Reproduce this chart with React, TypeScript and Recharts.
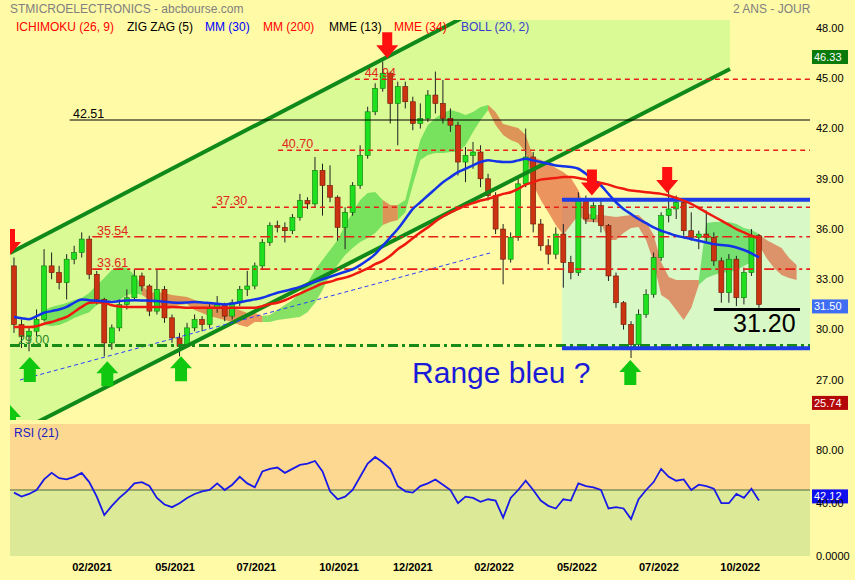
import React from 'react';
import { ComposedChart, Bar, Line, Area, Scatter, XAxis, YAxis, ReferenceLine } from 'recharts';

// weekly candles (index 0 = late nov 2020)
const opens = [
  33.8, 30.3, 29.6, 29.9, 30.6, 33.8, 33.4, 32.8, 34.2, 34.6,
  35.4, 33.3, 31.8, 29.2, 30.1, 31.5, 31.9, 33.2, 32.6, 31.1,
  32.4, 30.7, 29.5, 29.0, 30.1, 30.6, 30.3, 31.3, 31.5, 30.8,
  31.6, 32.4, 32.6, 33.8, 35.2, 36.2, 36.1, 35.9, 36.7, 37.7,
  37.5, 39.5, 38.6, 37.9, 36.1, 37.0, 38.6, 40.4, 43.0, 44.4,
  45.3, 43.5, 44.5, 43.6, 42.3, 42.6, 44.0, 43.5, 42.6, 42.2,
  40.0, 40.4, 40.6, 39.0, 38.0, 36.0, 34.2, 35.5, 38.7, 40.3,
  36.3, 35.0, 34.5, 35.7, 34.0, 33.4, 37.8, 36.6, 37.4, 36.2,
  33.2, 31.6, 30.3, 29.1, 30.9, 32.1, 34.3, 36.8, 37.2, 37.6,
  35.9, 35.5, 35.7, 35.5, 34.1, 32.2, 34.2, 31.9, 33.4, 35.6,
];
const highs = [
  34.3, 30.6, 30.2, 31.2, 34.8, 34.6, 33.8, 34.5, 35.0, 35.8,
  35.6, 33.5, 31.9, 30.3, 31.8, 32.4, 33.6, 33.4, 32.7, 33.6,
  32.6, 30.9, 29.8, 30.4, 30.9, 30.8, 31.5, 32.0, 31.6, 31.8,
  32.6, 33.5, 34.0, 35.4, 36.4, 36.5, 36.4, 36.9, 38.1, 37.9,
  40.3, 39.9, 39.8, 38.0, 37.3, 38.8, 41.0, 43.3, 44.7, 46.0,
  45.4, 44.8, 44.8, 43.9, 43.5, 44.3, 45.4, 44.9, 43.2, 42.4,
  40.9, 41.2, 41.0, 39.3, 38.2, 36.3, 35.8, 39.0, 42.0, 40.6,
  36.6, 35.4, 36.1, 36.3, 34.4, 38.2, 38.0, 37.6, 37.7, 36.3,
  33.4, 31.7, 30.5, 31.2, 32.4, 34.6, 37.0, 38.6, 38.0, 37.8,
  37.0, 35.9, 37.1, 35.8, 34.3, 34.5, 34.4, 33.7, 36.0, 35.7,
];
const lows = [
  29.8, 28.9, 28.7, 29.6, 30.5, 33.0, 32.4, 31.8, 33.9, 34.3,
  33.0, 31.5, 28.4, 28.8, 29.9, 31.2, 31.7, 32.3, 30.8, 30.9,
  30.4, 29.2, 28.4, 28.9, 29.9, 29.9, 30.1, 31.0, 30.5, 30.6,
  31.4, 32.0, 32.4, 33.6, 35.0, 35.8, 35.2, 35.7, 36.5, 37.2,
  37.3, 36.8, 37.6, 35.3, 34.8, 36.8, 38.4, 40.2, 42.8, 44.2,
  42.3, 41.0, 43.2, 41.9, 42.0, 42.4, 42.9, 42.3, 41.8, 39.2,
  38.8, 39.6, 38.5, 37.7, 35.7, 32.7, 34.0, 35.3, 38.5, 35.8,
  34.7, 33.9, 34.2, 32.5, 33.0, 33.2, 36.3, 36.4, 35.8, 32.9,
  31.3, 30.0, 28.3, 28.9, 30.7, 31.9, 34.1, 36.4, 36.6, 35.6,
  35.3, 34.8, 35.2, 33.8, 31.6, 31.6, 31.4, 31.5, 33.2, 31.3,
];
const closes = [
  30.3, 29.6, 29.9, 30.6, 33.8, 33.4, 32.8, 34.2, 34.6, 35.4,
  33.3, 31.8, 29.2, 30.1, 31.5, 31.9, 33.2, 32.6, 31.1, 32.4,
  30.7, 29.5, 29.0, 30.1, 30.6, 30.3, 31.3, 31.5, 30.8, 31.6,
  32.4, 32.6, 33.8, 35.2, 36.2, 36.1, 35.9, 36.7, 37.7, 37.5,
  39.5, 38.6, 37.9, 36.1, 37.0, 38.6, 40.4, 43.0, 44.4, 45.3,
  43.5, 44.5, 43.6, 42.3, 42.6, 44.0, 43.5, 42.6, 42.2, 40.0,
  40.4, 40.6, 39.0, 38.0, 36.0, 34.2, 35.5, 38.7, 40.3, 36.3,
  35.0, 34.5, 35.7, 34.0, 33.4, 37.8, 36.6, 37.4, 36.2, 33.2,
  31.6, 30.3, 29.1, 30.9, 32.1, 34.3, 36.8, 37.2, 37.6, 35.9,
  35.5, 35.7, 35.5, 34.1, 32.2, 34.2, 31.9, 33.4, 35.6, 31.5,
];

// MM (30) blue, MM (200) red
const mm30 = [
  30.75, 30.68, 30.62, 30.8, 31.0, 31.1, 31.2, 31.35, 31.6, 31.8,
  31.75, 31.72, 31.68, 31.65, 31.7, 31.73, 31.75, 31.74, 31.72, 31.7,
  31.66, 31.62, 31.6, 31.62, 31.65, 31.62, 31.58, 31.54, 31.5, 31.55,
  31.63, 31.72, 31.8, 31.9, 32.05, 32.2, 32.3, 32.42, 32.55, 32.7,
  32.85, 33.0, 33.15, 33.3, 33.45, 33.6, 33.85, 34.15, 34.5, 35.0,
  35.5, 36.0, 36.6, 37.2, 37.6, 38.0, 38.4, 38.8, 39.1, 39.4,
  39.6, 39.8, 40.0, 40.1, 40.05, 40.0, 40.0, 40.1, 40.2, 40.1,
  40.0, 39.9, 39.8, 39.75, 39.7, 39.6, 39.3, 38.9, 38.6, 38.1,
  37.6, 37.2, 36.9, 36.6, 36.35, 36.1, 35.9, 35.75, 35.6, 35.5,
  35.4, 35.3, 35.2, 35.1, 35.05, 35.0, 34.9, 34.75, 34.55, 34.3,
];
const mm200 = [
  30.15, 30.15, 30.15, 30.2, 30.35, 30.45, 30.6, 30.75, 31.05, 31.35,
  31.6, 31.63, 31.6, 31.45, 31.37, 31.35, 31.35, 31.35, 31.35, 31.35,
  31.35, 31.35, 31.33, 31.3, 31.3, 31.3, 31.3, 31.3, 31.3, 31.3,
  31.3, 31.3, 31.3, 31.4, 31.52, 31.6, 31.75, 31.95, 32.15, 32.35,
  32.55, 32.75, 32.85, 33.0, 33.1, 33.25, 33.45, 33.65, 33.9, 34.1,
  34.4, 34.8, 35.1, 35.45, 35.8, 36.1, 36.45, 36.75, 37.0, 37.2,
  37.4, 37.55, 37.7, 37.8, 37.95, 38.1, 38.2, 38.4, 38.65, 38.8,
  38.95, 39.0, 39.05, 39.1, 39.1, 39.05, 38.95, 38.85, 38.75, 38.65,
  38.5, 38.4, 38.3, 38.25, 38.2, 38.15, 38.1, 38.0, 37.85, 37.7,
  37.5, 37.25, 37.0, 36.75, 36.5, 36.25, 36.0, 35.8, 35.6, 35.45,
];

// ichimoku cloud edges (span A / span B), 5 points projected past the last candle
const spanA = [
  null, null, null, null, 31.16, 31.34, 31.46, 31.58, 31.76, 31.88,
  32.18, 32.66, 33.07, 33.55, 33.73, 33.67, 33.25, 32.66, 31.76, 31.46,
  31.16, 31.28, 31.46, 31.52, 31.16, 30.99, 30.81, 30.69, 30.57, 30.45,
  30.27, 30.15, 30.45, 30.45, 30.87, 31.16, 31.46, 31.76, 32.18, 32.78,
  33.55, 34.15, 34.75, 35.34, 36.24, 37.01, 37.73, 38.15, 38.21, 37.73,
  36.42, 36.54, 37.73, 39.52, 41.31, 42.21, 42.63, 42.93, 43.1, 42.99,
  42.81, 42.99, 43.28, 43.4, 42.21, 41.61, 41.31, 41.13, 40.6, 38.63,
  37.73, 37.01, 36.24, 35.64, 36.24, 36.84, 36.42, 36.42, 36.36, 35.34,
  35.34, 35.76, 36.06, 36.12, 35.34, 34.03, 32.06, 31.76, 31.16, 30.57,
  31.28, 32.66, 36.36, 36.42, 36.42, 36.42, 36.3, 36.06, 35.94, 35.7,
  34.27, 33.67, 33.25, 33.07, 32.96,
];
const spanB = [
  null, null, null, null, 30.27, 30.21, 30.27, 30.45, 30.69, 30.87,
  31.04, 31.46, 31.64, 31.76, 31.76, 32.06, 32.18, 32.06, 32.18, 32.24,
  32.18, 32.06, 32.0, 31.94, 31.76, 31.64, 31.58, 31.46, 31.4, 31.28,
  31.16, 30.99, 30.99, 30.81, 30.45, 30.57, 30.63, 30.69, 30.75, 31.04,
  31.58, 32.36, 33.25, 33.85, 34.45, 34.87, 35.22, 35.46, 35.76, 36.24,
  37.43, 37.43, 37.01, 38.63, 40.12, 40.42, 40.54, 40.54, 40.6, 40.6,
  41.01, 41.79, 42.51, 43.1, 42.99, 42.27, 42.15, 42.03, 41.61, 40.3,
  40.12, 39.94, 39.64, 39.4, 39.04, 38.33, 36.96, 36.84, 36.84, 36.78,
  36.72, 36.78, 36.84, 36.84, 36.42, 35.64, 34.03, 33.13, 32.96, 32.96,
  32.96, 32.96, 33.07, 33.25, 33.37, 33.43, 33.55, 33.79, 34.03, 35.04,
  35.34, 35.1, 34.87, 34.27, 33.85,
];

// RSI (21)
const rsi21 = [
  48, 45, 47, 50, 58, 63, 59, 58, 60, 63,
  56, 45, 31, 38, 44, 49, 55, 56, 53, 44,
  39, 37, 40, 44, 47, 49, 50, 55, 50, 54,
  60, 55, 52, 64, 66, 67, 63, 66, 69, 70,
  72, 64, 49, 43, 45, 50, 60, 70, 75, 71,
  66, 53, 49, 48, 53, 55, 58, 54, 50, 40,
  45, 44, 41, 43, 42, 29, 44, 50, 57, 50,
  42, 38, 36, 43, 42, 55, 53, 52, 50, 36,
  37, 36, 28, 43, 50, 56, 66, 60, 57, 58,
  50, 54, 53, 51, 40, 40, 47, 44, 51, 42.12,
];

const priceTicks = [27, 30, 33, 36, 39, 42, 45, 48];
const rsiTicks = [0, 40, 80];
const monthTicks = [10.37, 21.4, 32.2, 43.2, 53.0, 63.8, 74.8, 85.7, 96.5];
const monthLabels = ['02/2021', '05/2021', '07/2021', '10/2021', '12/2021', '02/2022', '05/2022', '07/2022', '10/2022'];

// support / resistance levels and where they start
const levelValues = [44.94, 42.51, 40.7, 37.3, 35.54, 33.61];
const levelStarts = [45.3, 7.4, 35.1, 26.3, 10.4, 10.4];

const X_MIN = -0.53;
const X_MAX = 105.78;
const P_MIN = 24.6;
const P_MAX = 48.48;

const YELLOW = '#fffaa6';
const FONT = '"Liberation Sans", Arial, sans-serif';
const BODY_W = 5;

const isGreen = (k: number) => spanA[k] != null && (spanA[k] as number) >= (spanB[k] as number);
const isRed = (k: number) => spanA[k] != null && (spanA[k] as number) < (spanB[k] as number);

const rows = spanA.map((a, i) => {
  const b = spanB[i];
  const rng = a != null && b != null ? [Math.min(a, b), Math.max(a, b)] : null;
  const hasCandle = i < opens.length;
  return {
    i,
    hl: hasCandle ? [lows[i], highs[i]] : null,
    o: hasCandle ? opens[i] : null,
    h: hasCandle ? highs[i] : null,
    l: hasCandle ? lows[i] : null,
    c: hasCandle ? closes[i] : null,
    mm30: hasCandle ? mm30[i] : null,
    mm200: hasCandle ? mm200[i] : null,
    rsi: hasCandle ? rsi21[i] : null,
    cg: rng && (isGreen(i) || isGreen(i + 1)) ? rng : null,
    cr: rng && (isRed(i) || isRed(i + 1)) ? rng : null,
  };
});

// trend channel (two parallel lines) and the blue range box
const upperLine = [{ x: -0.53, y: 34.57 }, { x: 59.93, y: 48.69 }];
const lowerLine = [{ x: -0.53, y: 23.64 }, { x: 95.15, y: 45.55 }];
const channelFill = [
  { i: -0.53, v: [23.64, 34.57] },
  { i: 95.15, v: [45.55, 56.91] },
];
const rangeBox = [
  { i: 72.82, v: [28.95, 37.75] },
  { i: X_MAX, v: [28.95, 37.75] },
];
const zigLine = [{ x: 0.8, y: 26.99 }, { x: 63.25, y: 34.57 }];

const redArrows = [
  { i: -0.53, p: 34.45 },
  { i: 49.6, p: 46.2 },
  { i: 76.8, p: 38.0 },
  { i: 86.8, p: 38.15 },
];
const greenArrows = [
  { i: -0.53, p: 25.5 },
  { i: 2.1, p: 28.36 },
  { i: 12.4, p: 28.1 },
  { i: 22.2, p: 28.4 },
  { i: 81.9, p: 28.18 },
];

const notes = [
  { i: 46.6, p: 45.31, text: '44.94', color: '#e0261a', size: 12.5 },
  { i: 7.84, p: 42.84, text: '42.51', color: '#000000', size: 12.5 },
  { i: 35.6, p: 41.07, text: '40.70', color: '#e0261a', size: 12.5 },
  { i: 26.84, p: 37.67, text: '37.30', color: '#e0261a', size: 12.5 },
  { i: 11.03, p: 35.88, text: '35.54', color: '#e0261a', size: 12.5 },
  { i: 11.03, p: 33.97, text: '33.61', color: '#e0261a', size: 12.5 },
  { i: 0.53, p: 29.37, text: '29.00', color: '#2a8a2a', size: 12.5 },
  { i: 95.55, p: 30.39, text: '31.20', color: '#000000', size: 25 },
  { i: 52.9, p: 27.46, text: 'Range bleu ?', color: '#1a1ad8', size: 30 },
];

const legendItems = [
  { text: 'ICHIMOKU (26, 9)', color: '#ff0000', left: 16 },
  { text: 'ZIG ZAG (5)', color: '#000000', left: 127 },
  { text: 'MM (30)', color: '#0000ff', left: 205 },
  { text: 'MM (200)', color: '#ff0000', left: 263 },
  { text: 'MME (13)', color: '#000000', left: 329 },
  { text: 'MME (34)', color: '#ff0000', left: 394 },
  { text: 'BOLL (20, 2)', color: '#3a3ad0', left: 461 },
];

// bar gives the high/low span through the y scale; body is placed inside it
const Candle = (props: any) => {
  const { x, y, width, height, payload } = props;
  if (!payload || payload.o == null) return null;
  const { o, h, l, c } = payload;
  const top = Math.min(y, y + height);
  const hh = Math.abs(height);
  const k = hh / (h - l || 1);
  const yO = top + (h - o) * k;
  const yC = top + (h - c) * k;
  const up = c >= o;
  const cx = x + width / 2;
  return (
    <g>
      <line x1={cx} x2={cx} y1={top} y2={top + hh} stroke="#202020" strokeWidth={1} />
      <rect
        x={cx - BODY_W / 2}
        y={Math.min(yO, yC)}
        width={BODY_W}
        height={Math.max(1, Math.abs(yC - yO))}
        fill={up ? '#1ee01e' : '#cc3311'}
        stroke={up ? '#0d7a0d' : '#6a1808'}
        strokeWidth={0.6}
      />
    </g>
  );
};

const RedArrow = (props: any) => {
  const { cx, cy } = props;
  const pts = [
    [cx - 5, cy - 26], [cx + 5, cy - 26], [cx + 5, cy - 13], [cx + 11, cy - 13],
    [cx, cy], [cx - 11, cy - 13], [cx - 5, cy - 13],
  ].map((p) => p.join(',')).join(' ');
  return <polygon points={pts} fill="#ff1010" />;
};

const GreenArrow = (props: any) => {
  const { cx, cy } = props;
  const pts = [
    [cx, cy], [cx + 11, cy + 12], [cx + 6, cy + 12], [cx + 6, cy + 25],
    [cx - 6, cy + 25], [cx - 6, cy + 12], [cx - 11, cy + 12],
  ].map((p) => p.join(',')).join(' ');
  return <polygon points={pts} fill="#10c810" />;
};

const Note = (props: any) => {
  const { cx, cy, payload } = props;
  return (
    <text x={cx} y={cy} fill={payload.color} fontSize={payload.size} dominantBaseline="central" fontFamily={FONT}>
      {payload.text}
    </text>
  );
};

// value tag drawn in the right axis column
const tag = (bg: string, text: string, shift: number) => (props: any) => {
  const vb = props.viewBox;
  const x = vb.x + vb.width + 2;
  const y = vb.y + shift;
  return (
    <g>
      <rect x={x} y={y - 7} width={36} height={14} fill={bg} />
      <text x={x + 2} y={y} fill="#ffffff" fontSize={11} dominantBaseline="central" fontFamily={FONT}>
        {text}
      </text>
    </g>
  );
};

const rsiBgTop = [
  { i: X_MIN, v: [50, 100] },
  { i: X_MAX, v: [50, 100] },
];
const rsiBgBottom = [
  { i: X_MIN, v: [0, 50] },
  { i: X_MAX, v: [0, 50] },
];

export default function App() {
  return (
    <div style={{ position: 'relative', width: 855, height: 580, background: YELLOW, fontFamily: FONT, overflow: 'hidden' }}>
      <style>{'body{margin:0}'}</style>

      <div style={{ position: 'absolute', top: 0, left: 0 }}>
        <ComposedChart width={855} height={422} data={rows} margin={{ top: 20, right: 0, left: 10, bottom: 2 }}>
          <XAxis dataKey="i" type="number" domain={[X_MIN, X_MAX]} hide allowDataOverflow />
          <YAxis
            orientation="right"
            width={45}
            domain={[P_MIN, P_MAX]}
            ticks={priceTicks}
            allowDataOverflow
            axisLine={false}
            tickLine={false}
            tickSize={4}
            tickMargin={2}
            tickFormatter={(v: number) => v.toFixed(2)}
            tick={{ fontSize: 11, fill: '#000' }}
          />

          <Area data={channelFill} dataKey="v" type="linear" stroke="none" fill="#dafa96" fillOpacity={1} isAnimationActive={false} />
          <Area data={rangeBox} dataKey="v" type="linear" stroke="none" fill="#d8f8c6" fillOpacity={1} isAnimationActive={false} />
          <Area dataKey="cg" type="linear" stroke="none" fill="#3cd23c" fillOpacity={0.62} isAnimationActive={false} />
          <Area dataKey="cr" type="linear" stroke="none" fill="#e0502d" fillOpacity={0.6} isAnimationActive={false} />

          <ReferenceLine segment={upperLine} stroke="#0f8a1a" strokeWidth={4} ifOverflow="hidden" />
          <ReferenceLine segment={lowerLine} stroke="#0f8a1a" strokeWidth={4} ifOverflow="hidden" />
          <ReferenceLine segment={zigLine} stroke="#2a40ff" strokeWidth={1} strokeDasharray="4 3" ifOverflow="hidden" />

          {levelValues.map((v, k) => (
            <ReferenceLine
              key={v}
              segment={[{ x: levelStarts[k], y: v }, { x: X_MAX, y: v }]}
              stroke={v === 42.51 ? '#000' : '#e8201a'}
              strokeWidth={v === 42.51 ? 1 : 1.6}
              strokeDasharray={v === 42.51 ? undefined : v > 36 ? '5 4' : '10 4 3 4'}
            />
          ))}
          <ReferenceLine segment={[{ x: X_MIN, y: 29.05 }, { x: X_MAX, y: 29.05 }]} stroke="#178a17" strokeWidth={3} strokeDasharray="10 4 3 4" />
          <ReferenceLine segment={[{ x: 72.82, y: 37.75 }, { x: X_MAX, y: 37.75 }]} stroke="#1e3de6" strokeWidth={4} />
          <ReferenceLine segment={[{ x: 72.82, y: 28.88 }, { x: X_MAX, y: 28.88 }]} stroke="#1e3de6" strokeWidth={4} />
          <ReferenceLine segment={[{ x: 93.0, y: 31.2 }, { x: 104.45, y: 31.2 }]} stroke="#000" strokeWidth={3} />

          <Bar dataKey="hl" barSize={5} shape={<Candle />} isAnimationActive={false} />

          <Line dataKey="mm200" type="monotone" stroke="#ee1a10" strokeWidth={2.5} dot={false} isAnimationActive={false} />
          <Line dataKey="mm30" type="monotone" stroke="#1432e6" strokeWidth={2.5} dot={false} isAnimationActive={false} />

          <Scatter data={redArrows} dataKey="p" shape={<RedArrow />} isAnimationActive={false} />
          <Scatter data={greenArrows} dataKey="p" shape={<GreenArrow />} isAnimationActive={false} />
          <Scatter data={notes} dataKey="p" shape={<Note />} isAnimationActive={false} />

          <ReferenceLine y={46.33} stroke="none" label={tag('#0a7a0a', '46.33', 1)} />
          <ReferenceLine y={31.5} stroke="none" label={tag('#3f6ef2', '31.50', 2)} />
          <ReferenceLine y={25.74} stroke="none" label={tag('#b40808', '25.74', 2)} />
        </ComposedChart>
      </div>

      <div style={{ position: 'absolute', top: 419, left: 0 }}>
        <ComposedChart width={855} height={161} data={rows} margin={{ top: 5, right: 0, left: 10, bottom: 6 }}>
          <XAxis
            dataKey="i"
            type="number"
            domain={[X_MIN, X_MAX]}
            allowDataOverflow
            ticks={monthTicks}
            tickFormatter={(v: number) => monthLabels[monthTicks.indexOf(v)]}
            axisLine={false}
            tickLine={false}
            tickSize={4}
            tickMargin={3}
            height={18}
            tick={{ fontSize: 11, fontWeight: 'bold', fill: '#000' }}
          />
          <YAxis
            orientation="right"
            width={45}
            domain={[0, 100]}
            ticks={rsiTicks}
            axisLine={false}
            tickLine={false}
            tickSize={4}
            tickMargin={2}
            tickFormatter={(v: number) => (v === 0 ? '0.0000' : v.toFixed(2))}
            tick={{ fontSize: 11, fill: '#000' }}
          />
          <Area data={rsiBgTop} dataKey="v" type="linear" stroke="none" fill="#fdd891" fillOpacity={1} isAnimationActive={false} />
          <Area data={rsiBgBottom} dataKey="v" type="linear" stroke="none" fill="#dcea98" fillOpacity={1} isAnimationActive={false} />
          <ReferenceLine y={50} stroke="#4a6a3a" strokeWidth={1} />
          <Line dataKey="rsi" type="linear" stroke="#1a1ae6" strokeWidth={1.8} dot={false} isAnimationActive={false} />
          <ReferenceLine y={42.12} stroke="none" label={tag('#1010ee', '42.12', -4)} />
        </ComposedChart>
      </div>

      <div style={{ position: 'absolute', top: 2, left: 10, fontSize: 12, color: '#808080' }}>
        STMICROELECTRONICS - abcbourse.com
      </div>
      <div style={{ position: 'absolute', top: 2, left: 733, fontSize: 12, color: '#808080' }}>2 ANS - JOUR</div>
      {legendItems.map((it) => (
        <div key={it.text} style={{ position: 'absolute', top: 20, left: it.left, fontSize: 12, color: it.color, whiteSpace: 'nowrap' }}>
          {it.text}
        </div>
      ))}
      <div style={{ position: 'absolute', top: 426, left: 14, fontSize: 12, color: '#2020c0' }}>RSI (21)</div>
    </div>
  );
}
